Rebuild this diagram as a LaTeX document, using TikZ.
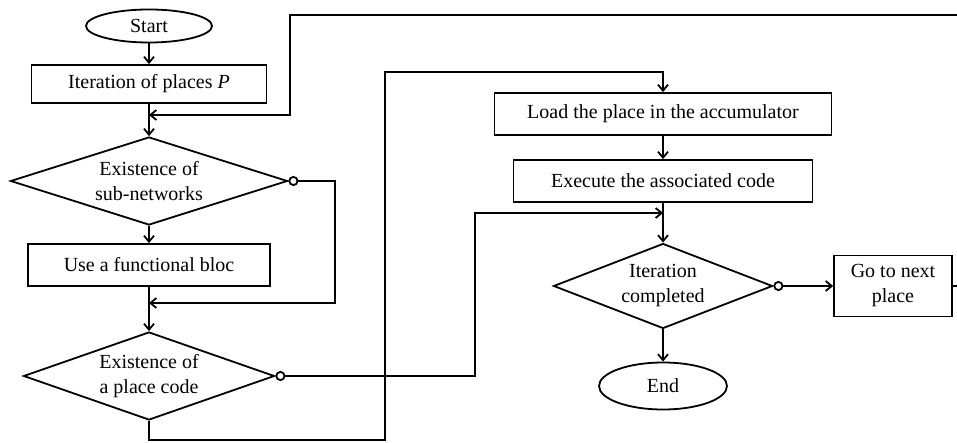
\documentclass[tikz,border=0pt]{standalone}
\usepackage{fontspec}
\setmainfont{Liberation Serif}
\usetikzlibrary{shapes.geometric,arrows.meta}
\begin{document}
\begin{tikzpicture}[x=1pt,y=-1pt,line width=1.8pt,
  every node/.style={font=\fontsize{20}{25}\selectfont,align=center,inner sep=0pt},
  box/.style={draw,rectangle},
  term/.style={draw,ellipse},
  dec/.style={draw,diamond},
  arr/.style={-{Straight Barb[length=6pt,width=10pt,line width=1.8pt]}},
  carr/.style={{Circle[open,length=10pt,width=10pt,line width=1.8pt]}-{Straight Barb[length=6pt,width=10pt,line width=1.8pt]}},
  cline/.style={{Circle[open,length=10pt,width=10pt,line width=1.8pt]}-}]
\useasboundingbox (0,0) rectangle (957,443);
% nodes
\node[term,minimum width=126pt,minimum height=33pt] (start) at (149,26) {Start};
\node[box,minimum width=235pt,minimum height=38pt] (iter) at (149,84) {Iteration of places \textit{P}};
\node[dec,minimum width=277pt,minimum height=88pt,aspect=3.15] (d1) at (149,181) {Existence of\\sub-networks};
\node[box,minimum width=242pt,minimum height=42pt] (use) at (149,265) {Use a functional bloc};
\node[dec,minimum width=251pt,minimum height=88pt,aspect=2.85] (d2) at (149,376) {Existence of\\a place code};
\node[box,minimum width=337pt,minimum height=42pt] (load) at (663,114) {Load the place in the accumulator};
\node[box,minimum width=299pt,minimum height=42pt] (exec) at (663,181) {Execute the associated code};
\node[dec,minimum width=219pt,minimum height=85pt,aspect=2.58] (d3) at (663,286) {Iteration\\completed};
\node[term,minimum width=128pt,minimum height=47pt] (end) at (663,386) {End};
\node[box,minimum width=118pt,minimum height=61pt] (next) at (893,286) {Go to next\\place};
% junction coordinates
\coordinate (j1) at (149,115);
\coordinate (j2) at (149,303);
\coordinate (j3) at (663,213);
\coordinate (topR) at (957,15);
\coordinate (nextR) at (957,286);
% connectors
\draw[arr] (start) -- (iter);
\draw[arr] (iter) -- (d1);
\draw[arr] (topR) -| (290,115) -- (j1);
\draw[arr] (d1) -- (use);
\draw[cline] (d1.east) -| (335,303) -- (j2);
\draw[arr] (335,303) -- (j2);
\draw[arr] (use) -- (d2);
\draw[cline] (d2.east) -- (475,376) |- (j3);
\draw[arr] (475,213) -- (j3);
\draw[arr] (d2.south) |- (385,440) -- (385,72) -| (load.north);
\draw[arr] (load) -- (exec);
\draw[arr] (exec) -- (d3);
\draw[carr] (d3.east) -- (next.west);
\draw[arr] (d3) -- (end);
\draw (next.east) -- (nextR);
\end{tikzpicture}
\end{document}
